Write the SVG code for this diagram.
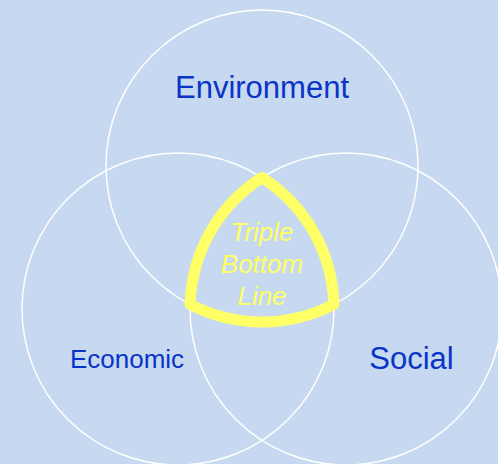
<svg xmlns="http://www.w3.org/2000/svg" width="498" height="464" viewBox="0 0 498 464">
<style>
.c{fill:none;stroke:#FFFFFF;stroke-width:1.5}
.lbl{font-family:"Liberation Sans",Arial,sans-serif;fill:#0A34C8;text-anchor:middle}
.tbl{font-family:"Liberation Sans",Arial,sans-serif;fill:#FFFF66;font-style:italic;font-size:26px;text-anchor:middle}
</style>
<rect x="0" y="0" width="498" height="464" fill="#C6D9F0"/>
<g id="environment">
<circle class="c" cx="262" cy="166" r="156"/>
<text class="lbl" x="262" y="98" font-size="31">Environment</text>
</g>
<g id="economic">
<circle class="c" cx="178" cy="309" r="156"/>
<text class="lbl" x="127" y="367.5" font-size="26">Economic</text>
</g>
<g id="social">
<circle class="c" cx="346" cy="309" r="156"/>
<text class="lbl" x="411.5" y="369" font-size="31">Social</text>
</g>
<g id="triple-bottom-line">
<path d="M262 177.5 A156 156 0 0 1 333.9 304.4 A156 156 0 0 1 190.1 304.4 A156 156 0 0 1 262 177.5 Z" fill="none" stroke="#FFFF66" stroke-width="11" stroke-linejoin="round"/>
<text class="tbl" x="262" y="240.5">Triple</text>
<text class="tbl" x="262" y="272.5">Bottom</text>
<text class="tbl" x="262" y="304.5">Line</text>
</g>
</svg>
